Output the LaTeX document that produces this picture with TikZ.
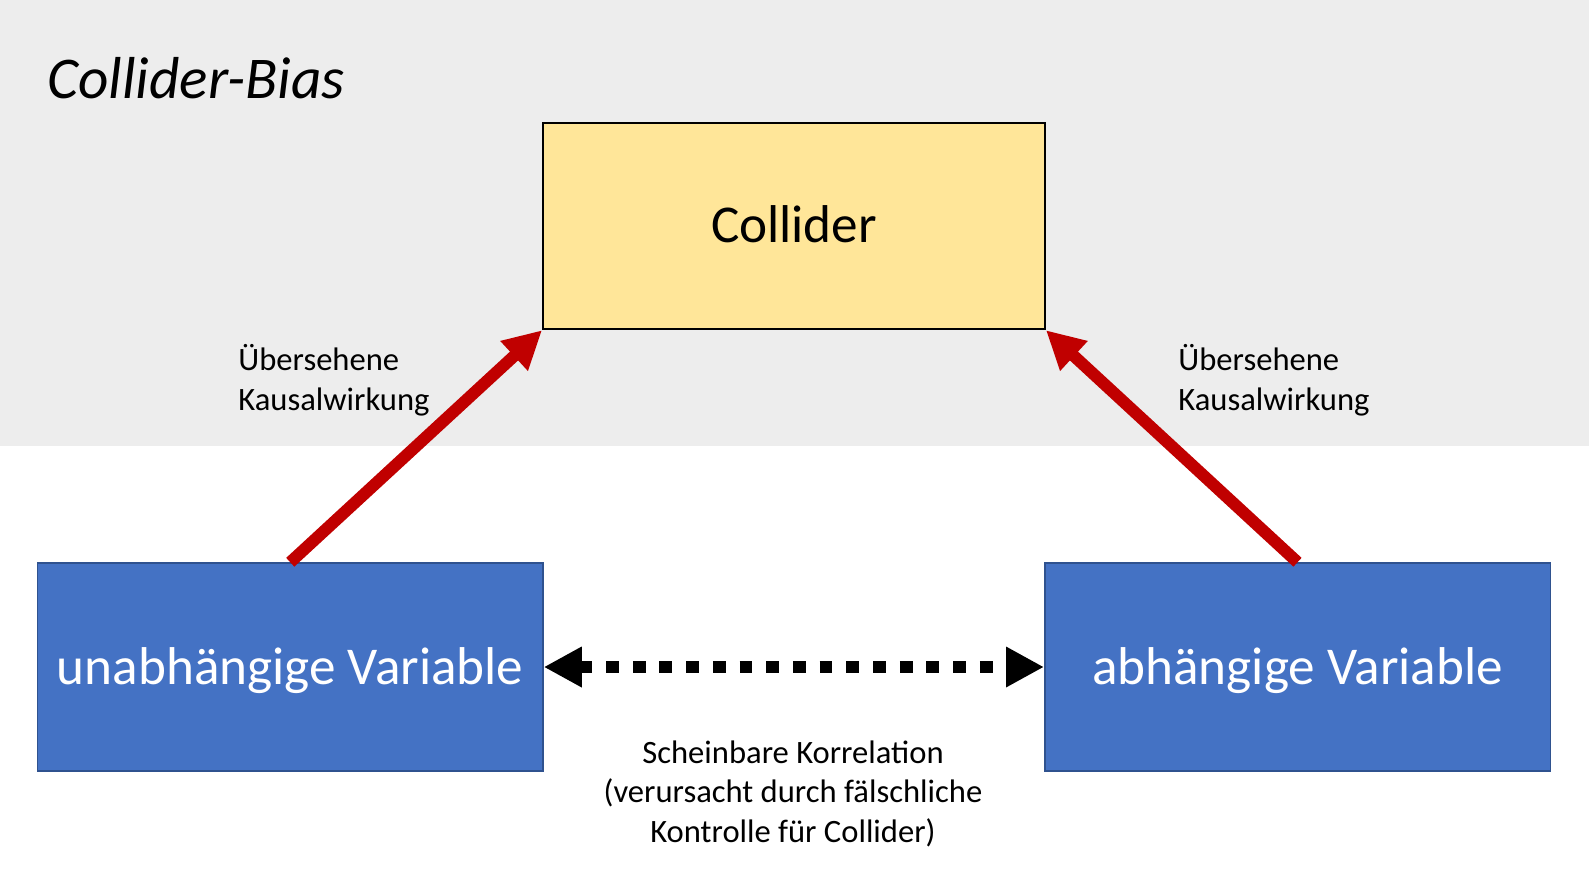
\documentclass[tikz,border=0pt]{standalone}
\usepackage{fontspec}
\setmainfont{Carlito}
\usetikzlibrary{arrows.meta}
\definecolor{bggrey}{HTML}{EDEDED}
\definecolor{cyellow}{HTML}{FFE699}
\definecolor{cblue}{HTML}{4472C4}
\definecolor{cblueborder}{HTML}{2F528F}
\definecolor{cred}{HTML}{C00000}
\begin{document}
\begin{tikzpicture}[x=0.5pt,y=-0.5pt,
  colliderbox/.style={draw=black, line width=1pt, fill=cyellow,
    minimum width=251pt, minimum height=103.25pt, inner sep=0pt,
    font=\fontsize{26.6}{31}\selectfont, text height=16.5pt, text depth=0pt},
  varbox/.style={draw=cblueborder, line width=0.75pt, fill=cblue, text=white,
    minimum width=252.75pt, minimum height=104pt, inner sep=0pt,
    font=\fontsize{26.6}{31}\selectfont, text height=17pt, text depth=0pt},
  causal/.style={draw=cred, line width=6pt, -{Triangle[length=19pt,width=19pt]}},
  spurious/.style={draw=black, line width=6.4pt, dash pattern=on 6.4pt off 6.95pt,
    {Triangle[length=19pt,width=19pt]}-{Triangle[length=19pt,width=19pt]}},
  notetext/.style={inner sep=0pt, font=\fontsize{16.3}{19.75}\selectfont},
  titletext/.style={inner sep=0pt, font=\fontsize{29.6}{34}\selectfont\itshape}
]
\useasboundingbox (0,0) rectangle (1589,894);
\fill[white] (0,0) rectangle (1589,894);
\fill[bggrey] (0,0) rectangle (1589,446);

\node[titletext, anchor=base west] (title) at (47,98) {Collider-Bias};

\node[colliderbox] (coll) at (794,226) {Collider};
\node[varbox] (uv) at (290.25,667) {unabhängige Variable};
\node[varbox] (av) at (1297.5,667) {abhängige Variable};

\draw[causal] (uv.north) -- (coll.south west);
\draw[causal] (av.north) -- (coll.south east);
\draw[spurious] (uv.east) -- (av.west);

\node[notetext, align=left, anchor=base west] (lbl1) at (238,410) {Übersehene\\Kausalwirkung};
\node[notetext, align=left, anchor=base west] (lbl2) at (1178,410) {Übersehene\\Kausalwirkung};
\node[notetext, align=center, anchor=base] (lbl3) at (793,842) {Scheinbare Korrelation\\(verursacht durch fälschliche\\Kontrolle für Collider)};
\end{tikzpicture}
\end{document}
